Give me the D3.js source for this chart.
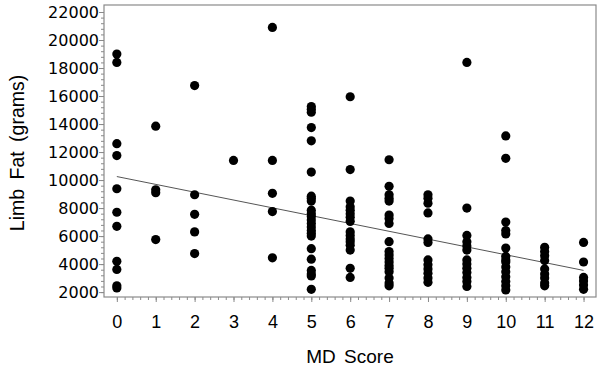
<!DOCTYPE html>
<html>
<head>
<meta charset="utf-8">
<script src="https://cdn.jsdelivr.net/npm/d3@7"></script>
<style>
    body { margin: 0; background: #fff; }
    svg { display: block; }
</style>
</head>
<body>
<svg id="chart"></svg>
<script>
// MD score levels on the x axis
const mdScores = [0, 1, 2, 3, 4, 5, 6, 7, 8, 9, 10, 11, 12];

// limb fat (grams) for the subjects at each MD score
const fatAt0 = [19000, 18400, 12600, 11750, 9380, 7700, 6700, 4200, 3620, 2450, 2300];
const fatAt1 = [13850, 9300, 9100, 5750];
const fatAt2 = [16750, 8950, 7550, 6300, 4750];
const fatAt3 = [11400];
const fatAt4 = [20900, 11400, 9050, 7750, 4450];
const fatAt5 = [15250, 15050, 14850, 13750, 12800, 10570, 8850, 8700, 8500, 7850, 7600,
    7400, 7150, 6900, 6650, 6400, 6200, 6000, 5100, 4350, 3550, 3300, 3150, 2200];
const fatAt6 = [15950, 10750, 8500, 8100, 7850, 7600, 7350, 7050, 6300, 6050, 5800,
    5600, 5350, 5000, 3700, 3050];
const fatAt7 = [11450, 9550, 8950, 8700, 8500, 7500, 7250, 6900, 5600, 4900, 4650,
    4400, 4150, 3900, 3700, 3450, 3000, 2650, 2450];
const fatAt8 = [8950, 8700, 8350, 7650, 5800, 5550, 4300, 3950, 3650, 3350, 3000, 2700];
const fatAt9 = [18400, 8000, 6050, 5600, 5300, 5000, 4300, 4000, 3700, 3400, 3050, 2750, 2400];
const fatAt10 = [13150, 11550, 7000, 6400, 6150, 5150, 4550, 4300, 4150, 3800, 3450,
    3100, 2750, 2450, 2150];
const fatAt11 = [5200, 4900, 4600, 4250, 3650, 3300, 3000, 2650, 2450];
const fatAt12 = [5550, 4150, 3050, 2800, 2500, 2200];

const fatByScore = [fatAt0, fatAt1, fatAt2, fatAt3, fatAt4, fatAt5, fatAt6,
    fatAt7, fatAt8, fatAt9, fatAt10, fatAt11, fatAt12];

// fitted line: value at score 0 and at score 12
const fitScores = [0, 12];
const fitValues = [10250, 3550];

// tick values
const xTicks = mdScores;
const yTicks = [2000, 4000, 6000, 8000, 10000, 12000, 14000, 16000, 18000, 20000, 22000];

class Scatter {
    margin = {
        top: 5, right: 4, bottom: 71, left: 104
    }

    constructor(svg, width = 600, height = 368) {
        this.svg = svg;
        this.width = width - this.margin.left - this.margin.right;
        this.height = height - this.margin.top - this.margin.bottom;
    }

    initialize() {
        this.svg = d3.select(this.svg)
            .attr("width", 600)
            .attr("height", 368);

        this.x = d3.scaleLinear()
            .domain([-0.33, 12.32])
            .range([0, this.width]);

        this.y = d3.scaleLinear()
            .domain([1650, 22500])
            .range([this.height, 0]);

        this.container = this.svg.append("g")
            .attr("transform", `translate(${this.margin.left}, ${this.margin.top})`);

        const self = this;

        // minor ticks
        const xMinor = d3.range(0, 60.5).map(i => i / 5);
        const yMinor = d3.range(2000, 22001, 400);

        const xMinorGroup = this.container.append("g")
            .attr("transform", `translate(0, ${this.height})`)
            .call(d3.axisBottom(self.x).tickValues(xMinor).tickSize(3).tickFormat(""));
        const yMinorGroup = this.container.append("g")
            .call(d3.axisLeft(self.y).tickValues(yMinor).tickSize(3).tickFormat(""));

        const xAxisGroup = this.container.append("g")
            .attr("transform", `translate(0, ${this.height})`)
            .call(d3.axisBottom(self.x).tickValues(xTicks).tickSize(5).tickFormat(d3.format("d")));
        const yAxisGroup = this.container.append("g")
            .call(d3.axisLeft(self.y).tickValues(yTicks).tickSize(5).tickFormat(d3.format("d")));

        [xMinorGroup, yMinorGroup, xAxisGroup, yAxisGroup].forEach(g => {
            g.select(".domain").remove();
            g.selectAll("line").attr("stroke", "#8a8a8a");
        });

        xAxisGroup.selectAll("text")
            .attr("y", 18)
            .attr("fill", "#000")
            .style("font-family", "'Liberation Sans', Arial, sans-serif")
            .style("font-size", "18px");

        yAxisGroup.selectAll("text")
            .attr("x", -5)
            .attr("fill", "#000")
            .style("font-family", "'DejaVu Sans', sans-serif")
            .style("font-size", "16px");

        // frame
        this.container.append("rect")
            .attr("x", 0)
            .attr("y", 0)
            .attr("width", this.width)
            .attr("height", this.height)
            .attr("fill", "none")
            .attr("stroke", "#8a8a8a")
            .attr("stroke-width", 1.2);

        // regression line
        const line = d3.line()
            .x(d => self.x(d[0]))
            .y(d => self.y(d[1]));
        this.container.append("path")
            .datum(d3.zip(fitScores, fitValues))
            .attr("d", line)
            .attr("fill", "none")
            .attr("stroke", "#555")
            .attr("stroke-width", 1);

        // points
        const points = mdScores.flatMap((s, i) => fatByScore[i].map(v => ({score: s, fat: v})));
        this.container.append("g")
            .selectAll("circle")
            .data(points)
            .join("circle")
            .attr("cx", d => self.x(d.score))
            .attr("cy", d => self.y(d.fat))
            .attr("r", 4.6)
            .attr("fill", "#000");

        // axis titles
        this.svg.append("text")
            .attr("transform", "translate(23.5, 153) rotate(-90)")
            .attr("text-anchor", "middle")
            .style("font-family", "'Liberation Sans', Arial, sans-serif")
            .style("font-size", "19.5px")
            .style("word-spacing", "4px")
            .text("Limb Fat (grams)");

        this.svg.append("text")
            .attr("x", this.margin.left + this.width / 2)
            .attr("y", 363)
            .attr("text-anchor", "middle")
            .style("font-family", "'Liberation Sans', Arial, sans-serif")
            .style("font-size", "19px")
            .style("word-spacing", "3px")
            .text("MD Score");
    }
}

const chart = new Scatter(document.getElementById("chart"));
chart.initialize();
</script>
</body>
</html>
